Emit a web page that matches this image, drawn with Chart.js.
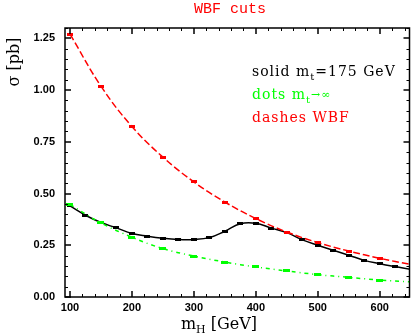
<!DOCTYPE html>
<html lang="en">
<head>
<meta charset="UTF-8">
<title>WBF cuts</title>
<style>
    html, body { margin: 0; padding: 0; background: #fff; }
    #chart { display: block; }
</style>
</head>
<body>
<canvas id="chart" width="415" height="336"></canvas>

<script src="https://cdn.jsdelivr.net/npm/chart.js@4.4.1/dist/chart.umd.min.js"></script>
<script>
// Higgs mass m_H [GeV] and cross section sigma [pb]
const massSolid = [100, 125, 150, 175, 200, 225, 250, 275, 300, 325, 350, 375, 400, 425, 450, 475, 500, 525, 550, 575, 600, 625, 650];
const sigmaSolid = [0.440, 0.395, 0.360, 0.334, 0.307, 0.294, 0.284, 0.278, 0.278, 0.287, 0.318, 0.354, 0.356, 0.333, 0.311, 0.276, 0.250, 0.226, 0.202, 0.177, 0.161, 0.147, 0.134];

const massDots = [100, 150, 200, 250, 300, 350, 400, 450, 500, 550, 600, 650];
const sigmaDots = [0.447, 0.358, 0.289, 0.234, 0.198, 0.169, 0.145, 0.126, 0.108, 0.095, 0.082, 0.073];

const massDashes = [100, 150, 200, 250, 300, 350, 400, 450, 500, 550, 600, 650];
const sigmaDashes = [1.271, 1.019, 0.824, 0.676, 0.556, 0.459, 0.379, 0.314, 0.263, 0.222, 0.187, 0.157];

const xTicks = [100, 200, 300, 400, 500, 600];
const yTicks = [0, 0.25, 0.5, 0.75, 1.0, 1.25];

const RED = "#ff0000";
const GREEN = "#00ff00";

// small flat rectangles used as point markers
function marker(w, h, color) {
    const c = document.createElement("canvas");
    c.width = w;
    c.height = h;
    const g = c.getContext("2d");
    g.fillStyle = color;
    g.fillRect(0, 0, w, h);
    return c;
}

const toPoints = (xs, ys) => xs.map((x, i) => ({ x, y: ys[i] }));
const hideEdge = ctx => (ctx.raw && ctx.raw.x > 640 ? 0 : 3);

// draws text with a lowered subscript; parts = [[text, fontSize, dy], ...]
function drawParts(ctx, parts, x, y, family, align) {
    let total = 0;
    parts.forEach(([t, s]) => {
        ctx.font = s + "px " + family;
        total += ctx.measureText(t).width;
    });
    let cx = align === "center" ? x - total / 2 : x;
    ctx.textAlign = "left";
    parts.forEach(([t, s, dy]) => {
        ctx.font = s + "px " + family;
        ctx.fillText(t, cx, y + (dy || 0));
        cx += ctx.measureText(t).width;
    });
}

const framePlugin = {
    id: "frame",
    afterDatasetsDraw(chart) {
        const { ctx, chartArea: a, scales: { x, y } } = chart;
        ctx.save();
        ctx.strokeStyle = "#000";

        // inward ticks on all four sides
        ctx.lineWidth = 1;
        ctx.beginPath();
        for (let v = 100; v <= 640; v += 20) {
            if (v % 100 === 0) continue;
            const px = Math.round(x.getPixelForValue(v)) + 0.5;
            ctx.moveTo(px, a.bottom); ctx.lineTo(px, a.bottom - 3);
            ctx.moveTo(px, a.top); ctx.lineTo(px, a.top + 3);
        }
        for (let i = 0; i <= 26; i++) {
            if (i % 5 === 0) continue;
            const py = Math.round(y.getPixelForValue(i * 0.05)) + 0.5;
            ctx.moveTo(a.left, py); ctx.lineTo(a.left + 3, py);
            ctx.moveTo(a.right, py); ctx.lineTo(a.right - 3, py);
        }
        ctx.stroke();

        ctx.lineWidth = 1.5;
        ctx.beginPath();
        xTicks.forEach(v => {
            const px = Math.round(x.getPixelForValue(v));
            ctx.moveTo(px, a.bottom); ctx.lineTo(px, a.bottom - 6);
            ctx.moveTo(px, a.top); ctx.lineTo(px, a.top + 6);
        });
        yTicks.forEach(v => {
            const py = Math.round(y.getPixelForValue(v));
            ctx.moveTo(a.left, py); ctx.lineTo(a.left + 6, py);
            ctx.moveTo(a.right, py); ctx.lineTo(a.right - 6, py);
        });
        ctx.stroke();

        ctx.lineWidth = 1.5;
        ctx.strokeRect(a.left, a.top, a.right - a.left, a.bottom - a.top);

        // title
        ctx.fillStyle = RED;
        ctx.font = "15px 'Liberation Mono'";
        ctx.textAlign = "center";
        ctx.textBaseline = "alphabetic";
        ctx.fillText("WBF cuts", 230, 13);

        const serif = "'DejaVu Serif'";

        // x axis title
        ctx.fillStyle = "#000";
        drawParts(ctx, [["m", 16], ["H", 11, 4], [" [GeV]", 16]], 219, 329, serif, "center");

        // y axis title, rotated
        ctx.save();
        ctx.translate(19, 62);
        ctx.rotate(-Math.PI / 2);
        drawParts(ctx, [["\u03c3 [pb]", 16]], 0, 0, serif, "center");
        ctx.restore();

        // legend text
        ctx.letterSpacing = "1px";
        ctx.fillStyle = "#000";
        drawParts(ctx, [["solid m", 14], ["t", 10, 4], ["=175 GeV", 14]], 252, 76, serif, "left");
        ctx.fillStyle = GREEN;
        drawParts(ctx, [["dots m", 14], ["t", 10, 4], ["\u2192\u221e", 11, -1]], 252, 99, serif, "left");
        ctx.fillStyle = RED;
        drawParts(ctx, [["dashes WBF", 14]], 252, 122, serif, "left");

        ctx.restore();
    }
};

const tickFont = { family: "'Liberation Sans'", size: 11, weight: "bold" };

new Chart("chart", {
    type: "line",
    data: {
        datasets: [
            {
                data: toPoints(massDots, sigmaDots),
                borderColor: GREEN,
                borderWidth: 1.5,
                borderDash: [4, 4, 1, 4],
                pointStyle: marker(7, 3, GREEN),
                pointRadius: hideEdge,
                tension: 0.4,
                fill: false,
            },
            {
                data: toPoints(massDashes, sigmaDashes),
                borderColor: RED,
                borderWidth: 1.5,
                borderDash: [7, 3],
                pointStyle: marker(6, 3, RED),
                pointRadius: hideEdge,
                tension: 0.4,
                fill: false,
            },
            {
                data: toPoints(massSolid, sigmaSolid),
                borderColor: "#000",
                borderWidth: 1.5,
                pointStyle: marker(6, 3, "#000"),
                pointRadius: hideEdge,
                tension: 0.4,
                fill: false,
            },
        ],
    },
    options: {
        responsive: false,
        animation: false,
        events: [],
        layout: { padding: { top: 28, right: 3, left: 0, bottom: 0 } },
        plugins: { legend: { display: false }, title: { display: false }, tooltip: { enabled: false } },
        scales: {
            x: {
                type: "linear",
                min: 92,
                max: 648,
                grid: { display: false, drawTicks: false },
                border: { display: false },
                afterBuildTicks: s => { s.ticks = xTicks.map(value => ({ value })); },
                afterFit: s => { s.height = 39; },
                ticks: { color: "#000", font: tickFont, padding: 4, maxRotation: 0 },
            },
            y: {
                type: "linear",
                min: 0,
                max: 1.3,
                grid: { display: false, drawTicks: false },
                border: { display: false },
                afterBuildTicks: s => { s.ticks = yTicks.map(value => ({ value })); },
                afterFit: s => { s.width = 65; },
                ticks: { color: "#000", font: tickFont, padding: 10, callback: v => v.toFixed(2) },
            },
        },
    },
    plugins: [framePlugin],
});
</script>
</body>
</html>
